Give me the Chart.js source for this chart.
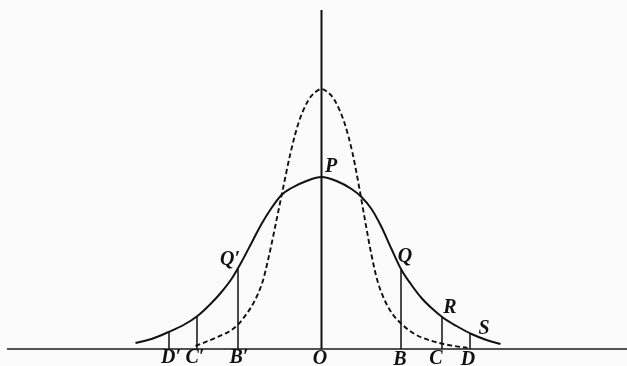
<!DOCTYPE html>
<html>
<head>
<meta charset="utf-8">
<script src="https://cdn.jsdelivr.net/npm/chart.js@4/dist/chart.umd.min.js"></script>
<style>
html,body{margin:0;padding:0;background:#fbfbfb;}
#wrap{width:627px;height:366px;}
</style>
</head>
<body>
<div id="wrap"><canvas id="c" width="627" height="366"></canvas></div>
<script>
// Solid (wide) curve: abscissa and ordinate readings
const solidX = [-18.6, -17.0, -15.3, -13.8, -12.4, -11.0, -10.0, -9.0, -8.0, -7.0, -6.0, -5.0, -4.0, -3.0, -1.5, 0, 1.5, 3.0, 4.0, 5.0, 6.0, 7.0, 8.0, 9.0, 10.0, 11.0, 12.2, 13.5, 15.0, 16.5, 17.9];
const solidY = [0.6, 1.0, 1.7, 2.4, 3.3, 4.6, 5.7, 7.0, 8.7, 10.6, 12.5, 14.1, 15.4, 16.1, 16.8, 17.2, 16.8, 16.0, 15.2, 14.0, 12.2, 10.0, 7.9, 6.4, 5.1, 4.1, 3.1, 2.3, 1.5, 0.9, 0.5];
// Dashed (narrow) curve
const dashX = [-12.6, -10.4, -9.0, -8.3, -7.5, -6.8, -5.9, -5.3, -4.6, -3.9, -3.1, -2.3, -1.3, -0.6, 0, 0.6, 1.3, 2.3, 3.1, 3.8, 4.4, 5.0, 5.6, 6.4, 7.1, 7.9, 9.0, 9.9, 12.2, 14.6];
const dashY = [0.3, 1.2, 1.9, 2.5, 3.5, 4.6, 6.7, 9.1, 12.4, 15.8, 19.6, 22.6, 24.9, 25.7, 26.0, 25.7, 24.9, 22.6, 19.6, 16.0, 12.6, 9.4, 6.8, 4.7, 3.5, 2.6, 1.7, 1.2, 0.5, 0.1];
// Ordinates D', C', B', B, C, D
const ordX = [-15.25, -12.45, -8.35, 7.95, 12.05, 14.85];
const ordY = [1.75, 3.3, 8.1, 7.9, 3.2, 1.55];
// Text labels and their anchors
const labelText = ["P", "Q\u2032", "Q", "R", "S", "D\u2032", "C\u2032", "B\u2032", "O", "B", "C", "D"];
const labelX = [0.95, -9.15, 8.35, 12.85, 16.25, -15.05, -12.65, -8.25, -0.15, 7.85, 11.45, 14.65];
const labelY = [18.2, 8.9, 9.2, 4.1, 2.0, -0.9, -0.9, -0.9, -1.0, -1.1, -1.0, -1.1];
// Axes extents
const axisLeft = -31.45, axisRight = 30.55, axisTop = 33.9;

const solidData = solidX.map((x, i) => ({x: x, y: solidY[i]}));
const dashData = dashX.map((x, i) => ({x: x, y: dashY[i]}));
const ordData = [];
ordX.forEach((x, i) => { ordData.push({x: x, y: 0}); ordData.push({x: x, y: ordY[i]}); ordData.push({x: x, y: null}); });

const labelPlugin = {
  id: 'labels',
  afterDatasetsDraw(chart) {
    const ctx = chart.ctx, xs = chart.scales.x, ys = chart.scales.y;
    ctx.save();
    ctx.fillStyle = '#111';
    ctx.font = 'bold italic 20px "Liberation Serif", "DejaVu Serif", serif';
    ctx.textAlign = 'center';
    ctx.textBaseline = 'middle';
    labelText.forEach((t, i) => {
      ctx.fillText(t, xs.getPixelForValue(labelX[i]), ys.getPixelForValue(labelY[i]));
    });
    ctx.restore();
  }
};

new Chart(document.getElementById('c'), {
  type: 'line',
  data: {
    datasets: [
      {data: [{x: axisLeft, y: 0}, {x: axisRight, y: 0}], borderColor: '#1a1a1a', borderWidth: 1.6, pointRadius: 0, clip: false},
      {data: [{x: 0, y: 0}, {x: 0, y: axisTop}], borderColor: '#111', borderWidth: 2, pointRadius: 0, clip: false},
      {data: solidData, borderColor: '#111', borderWidth: 2, pointRadius: 0, cubicInterpolationMode: 'monotone', clip: false},
      {data: dashData, borderColor: '#111', borderWidth: 1.9, borderDash: [5, 3], pointRadius: 0, cubicInterpolationMode: 'monotone', clip: false},
      {data: ordData, borderColor: '#111', borderWidth: 1.5, pointRadius: 0, spanGaps: false, clip: false}
    ]
  },
  options: {
    responsive: false,
    animation: false,
    events: [],
    layout: {padding: {left: 7, right: 0, top: 10, bottom: 17}},
    plugins: {legend: {display: false}, tooltip: {enabled: false}, title: {display: false}},
    scales: {
      x: {type: 'linear', min: axisLeft, max: axisRight, display: false},
      y: {type: 'linear', min: 0, max: axisTop, display: false}
    }
  },
  plugins: [labelPlugin]
});
</script>
</body>
</html>
